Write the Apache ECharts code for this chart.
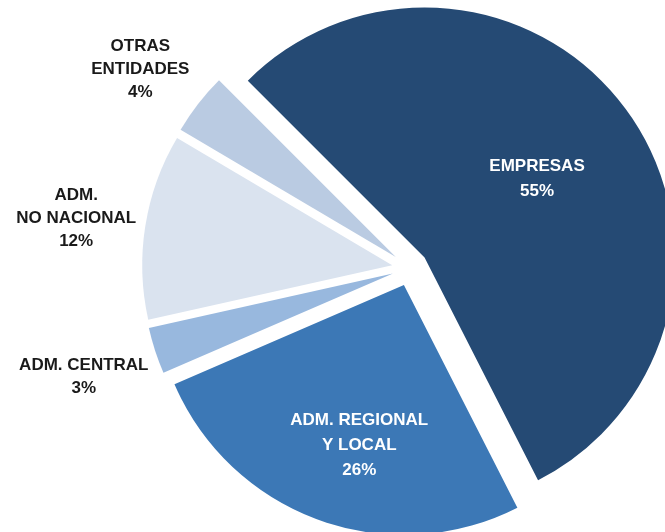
<!DOCTYPE html>
<html>
<head>
<meta charset="utf-8">
<script src="https://cdn.jsdelivr.net/npm/echarts@6/dist/echarts.min.js"></script>
<style>
  html, body { margin: 0; padding: 0; background: #ffffff; }
  #chart { width: 665px; height: 532px; }
</style>
</head>
<body>
<div id="chart"></div>
<script>
// Share of each sector (percent)
const categories = ['EMPRESAS', 'ADM. REGIONAL\nY LOCAL', 'ADM. CENTRAL', 'ADM.\nNO NACIONAL', 'OTRAS\nENTIDADES'];
const shares = [55, 26, 3, 12, 4];
const sliceColors = ['#254A74', '#3C78B6', '#98B8DE', '#DAE3EF', '#BACBE2'];

// Pie geometry
const CENTER = [410, 268];
const RADIUS = 250;
const EXPLODE = 18;
const START_ANGLE = 135;
// Label placement: distance from the tip of the exploded slice,
// a small turn away from the slice's middle angle (degrees, clockwise)
const labelRadius = [139, 164, 325, 320, 319];
const labelTurn = [0, -4, 0, 0, -1];
const labelInside = [true, true, false, false, false];
const TEXT_SHIFT_Y = 3;

const total = shares.reduce((a, b) => a + b, 0);
const midAngles = [];
let acc = 0;
shares.forEach(v => {
  const a0 = acc;
  acc += v / total * 360;
  midAngles.push((a0 + acc) / 2);
});

function labelPos(i) {
  const mid = (START_ANGLE - midAngles[i]) * Math.PI / 180;
  const theta = (START_ANGLE - midAngles[i] - labelTurn[i]) * Math.PI / 180;
  const tipX = CENTER[0] + EXPLODE * Math.cos(mid);
  const tipY = CENTER[1] - EXPLODE * Math.sin(mid);
  return [tipX + labelRadius[i] * Math.cos(theta), tipY - labelRadius[i] * Math.sin(theta) + TEXT_SHIFT_Y];
}

const common = {
  type: 'pie',
  center: CENTER,
  radius: RADIUS,
  startAngle: START_ANGLE,
  clockwise: true,
  avoidLabelOverlap: false,
  silent: true,
  emphasis: { disabled: true },
  labelLine: { show: false }
};

const chart = echarts.init(document.getElementById('chart'), null, { renderer: 'canvas' });
chart.setOption({
  backgroundColor: '#ffffff',
  animation: false,
  series: [
    // exploded slices
    Object.assign({}, common, {
      selectedMode: 'multiple',
      selectedOffset: EXPLODE,
      itemStyle: { borderWidth: 0 },
      label: { show: false },
      data: categories.map((c, i) => ({
        name: c,
        value: shares[i],
        selected: true,
        itemStyle: { color: sliceColors[i] }
      }))
    }),
    // category and percentage labels
    Object.assign({}, common, {
      z: 5,
      itemStyle: { color: 'rgba(0,0,0,0)', borderWidth: 0 },
      label: {
        show: true,
        position: 'inside',
        formatter: p => p.name + '\n' + p.value + '%',
        fontFamily: 'Liberation Sans',
        fontWeight: 'bold',
        fontSize: 17,
        lineHeight: 25,
        color: '#ffffff',
        align: 'center'
      },
      labelLayout: p => {
        const xy = labelPos(p.dataIndex);
        return { x: xy[0], y: xy[1], align: 'center', verticalAlign: 'middle' };
      },
      data: categories.map((c, i) => ({
        name: c,
        value: shares[i],
        label: labelInside[i] ? {} : { color: '#1a1a1a', lineHeight: 23 }
      }))
    })
  ]
});
</script>
</body>
</html>
